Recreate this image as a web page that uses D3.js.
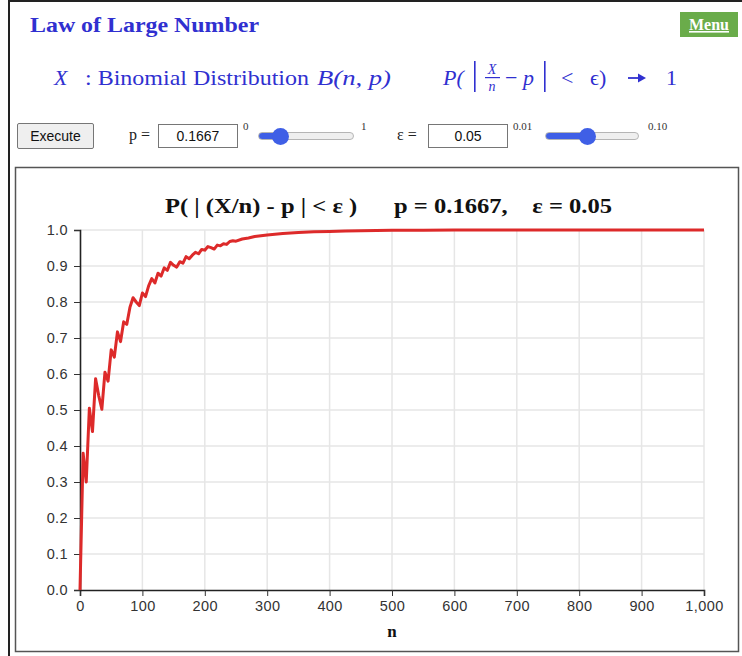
<!DOCTYPE html>
<html>
<head>
<meta charset="utf-8">
<script src="https://cdn.jsdelivr.net/npm/d3@7/dist/d3.min.js"></script>
<style>
  html, body { margin: 0; padding: 0; background: #fff; }
  #page { position: relative; width: 742px; height: 656px; overflow: hidden; }
  #frame { position: absolute; left: 8px; top: 0; width: 740px; height: 660px;
           border-left: 2px solid #222; border-top: 2px solid #222; box-sizing: border-box; }
  svg { position: absolute; left: 0; top: 0; }
  .ctl { position: absolute; font-family: "Liberation Sans", Arial, sans-serif; }
  #exec { left: 17px; top: 123px; width: 77px; height: 26px; font-size: 14px;
          background: #efefef; border: 1px solid #767676; border-radius: 2px; padding: 0; color: #111; }
  .box { height: 24px; width: 80px; font-size: 14px; text-align: center; border: 1px solid #767676;
         padding: 0; box-sizing: border-box; color: #111; background: #fff; }
  .lbl { position: absolute; font-family: "Liberation Serif", "Times New Roman", serif; font-size: 16px; color: #222; }
  .sm { position: absolute; font-family: "Liberation Serif", "Times New Roman", serif; font-size: 11px; color: #333; }
  input[type=range] { position: absolute; margin: 0; height: 8px; -webkit-appearance: none; appearance: none;
                      border: 1px solid #b5b5b5; border-radius: 5px; box-sizing: border-box; }
  input[type=range]::-webkit-slider-thumb { -webkit-appearance: none; width: 17px; height: 17px;
                      border-radius: 50%; background: #3f5fe6; border: none; }
</style>
</head>
<body>
<div id="page">
  <div id="frame"></div>
  <button id="exec" class="ctl">Execute</button>
  <span class="lbl" style="left:129px; top:126px;">p =</span>
  <input class="ctl box" style="left:158px; top:124px;" value="0.1667">
  <span class="sm" style="left:243px; top:120px;">0</span>
  <input id="pSlider" type="range" min="0" max="1" step="0.0001" value="0.1667" style="left:258px; top:132px; width:96px;">
  <span class="sm" style="left:361px; top:120px;">1</span>
  <span class="lbl" style="left:397px; top:126px;">ε =</span>
  <input class="ctl box" style="left:428px; top:124px;" value="0.05">
  <span class="sm" style="left:513px; top:120px;">0.01</span>
  <input id="eSlider" type="range" min="0.01" max="0.10" step="0.01" value="0.05" style="left:545px; top:132px; width:94px;">
  <span class="sm" style="left:648px; top:120px;">0.10</span>
</div>
<script>
// Sample sizes n and the probability P(|X/n - p| < ε) for X ~ B(n, p)
const nValues = [
  0, 5, 10, 15, 20, 25, 30, 35, 40, 45, 50, 55, 60, 65, 70, 75, 80, 85, 90, 95,
  100, 105, 110, 115, 120, 125, 130, 135, 140, 145, 150, 155, 160, 165, 170, 175, 180, 185, 190, 195,
  200, 205, 210, 215, 220, 225, 230, 235, 240, 245, 250, 260, 270, 280, 290, 300,
  325, 350, 375, 400, 425, 450, 475, 500, 550, 600, 700, 800, 900, 1000
];
const probValues = [
  0, 0.38, 0.30, 0.505, 0.44, 0.587, 0.54, 0.502, 0.605, 0.58, 0.667, 0.647, 0.717, 0.69, 0.745, 0.738, 0.785, 0.812, 0.80, 0.79,
  0.825, 0.815, 0.845, 0.865, 0.853, 0.88, 0.872, 0.895, 0.888, 0.91, 0.902, 0.897, 0.912, 0.908, 0.926, 0.92, 0.93, 0.938, 0.934, 0.946,
  0.944, 0.954, 0.951, 0.947, 0.958, 0.956, 0.962, 0.96, 0.968, 0.97, 0.969, 0.975, 0.978, 0.982, 0.984, 0.986,
  0.99, 0.993, 0.995, 0.996, 0.997, 0.998, 0.9985, 0.999, 0.9994, 0.9997, 0.9999, 1.0, 1.0, 1.0
];
const xTicks = [0, 100, 200, 300, 400, 500, 600, 700, 800, 900, 1000];
const yTicks = [0, 0.1, 0.2, 0.3, 0.4, 0.5, 0.6, 0.7, 0.8, 0.9, 1.0];
const pValue = "0.1667";
const epsValue = "0.05";

const W = 742, H = 656;
const serif = "'Liberation Serif', 'Times New Roman', serif";
const sans = "'Liberation Sans', Arial, sans-serif";
const blue = "#3030d0";

// Slider tracks: filled blue up to the current value
document.querySelectorAll("input[type=range]").forEach(r => {
  const pct = 100 * (r.value - r.min) / (r.max - r.min);
  r.style.background = `linear-gradient(to right, #3f5fe6 ${pct}%, #efefef ${pct}%)`;
});

const svg = d3.select("#page").insert("svg", "#exec")
  .attr("width", W).attr("height", H);

// Serif text helper; an optional width stretches the run to that length
function stext(xPos, yPos, size, str, opts = {}) {
  const t = svg.append("text").attr("x", xPos).attr("y", yPos)
    .attr("font-family", serif).attr("font-size", size)
    .attr("fill", opts.fill || blue);
  if (opts.italic) t.attr("font-style", "italic");
  if (opts.bold) t.attr("font-weight", "bold");
  if (opts.anchor) t.attr("text-anchor", opts.anchor);
  if (opts.width) t.attr("textLength", opts.width).attr("lengthAdjust", "spacingAndGlyphs");
  t.text(str);
  return t;
}

// Page heading
stext(30, 32, 21, "Law of Large Number", { bold: true, width: 229 });

// Menu button
svg.append("rect").attr("x", 680).attr("y", 12).attr("width", 58).attr("height", 25)
  .attr("fill", "#6aac4a");
stext(709, 30, 16, "Menu", { bold: true, fill: "#fff", anchor: "middle" })
  .attr("text-decoration", "underline");

// Formula line
stext(54, 85, 22, "X", { italic: true });
stext(85, 85, 22, ": Binomial Distribution", { width: 224 });
stext(317, 85, 22, "B(n, p)", { italic: true, width: 74 });
stext(443, 85, 22, "P(", { italic: true });
svg.append("rect").attr("x", 474).attr("y", 61).attr("width", 1.6).attr("height", 31).attr("fill", blue);
stext(492, 74, 14, "X", { italic: true, anchor: "middle" });
svg.append("rect").attr("x", 485).attr("y", 77).attr("width", 15).attr("height", 1.2).attr("fill", blue);
stext(492, 91, 14, "n", { italic: true, anchor: "middle" });
stext(505, 85, 22, "−", {});
stext(523, 85, 22, "p", { italic: true });
svg.append("rect").attr("x", 544).attr("y", 61).attr("width", 1.6).attr("height", 31).attr("fill", blue);
stext(561, 85, 22, "<", {});
stext(590, 85, 22, "ϵ)", {});
// Limit arrow
svg.append("line").attr("x1", 628).attr("x2", 640).attr("y1", 78).attr("y2", 78)
  .attr("stroke", blue).attr("stroke-width", 1.8);
svg.append("path").attr("d", "M638,73.5 L646,78 L638,82.5 Z").attr("fill", blue);
stext(666, 85, 22, "1", {});

// Chart frame
svg.append("rect").attr("x", 15.5).attr("y", 167.5).attr("width", 723).attr("height", 484)
  .attr("fill", "#fff").attr("stroke", "#555").attr("stroke-width", 1.5);

// Chart title
svg.append("text").attr("x", 165).attr("y", 213)
  .attr("font-family", serif).attr("font-weight", "bold").attr("font-size", 22).attr("fill", "#111")
  .attr("xml:space", "preserve")
  .attr("textLength", 447).attr("lengthAdjust", "spacingAndGlyphs")
  .text(`P( | (X/n) - p | < ε )      p = ${pValue},    ε = ${epsValue}`);

const x = d3.scaleLinear().domain([0, 1000]).range([80, 704]);
const y = d3.scaleLinear().domain([0, 1]).range([590, 230]);

// Grid
const grid = svg.append("g").attr("stroke", "#e6e6e6").attr("stroke-width", 1.5);
grid.selectAll("line.v").data(xTicks.slice(1)).join("line")
  .attr("x1", d => x(d)).attr("x2", d => x(d)).attr("y1", y(1)).attr("y2", y(0));
grid.selectAll("line.h").data(yTicks.slice(1)).join("line")
  .attr("x1", x(0)).attr("x2", x(1000)).attr("y1", d => y(d)).attr("y2", d => y(d));

// Axes
const xAxis = svg.append("g").attr("transform", `translate(0,${y(0)})`)
  .call(d3.axisBottom(x).tickValues(xTicks).tickFormat(d3.format(",")).tickSizeOuter(0).tickSize(6).tickPadding(5));
const yAxis = svg.append("g").attr("transform", `translate(${x(0)},0)`)
  .call(d3.axisLeft(y).tickValues(yTicks).tickFormat(d3.format(".1f")).tickSizeOuter(0).tickSize(6).tickPadding(6));
[xAxis, yAxis].forEach(a => {
  a.select(".domain").attr("stroke", "#222").attr("stroke-width", 1.6);
  a.selectAll(".tick line").attr("stroke", "#333");
  a.selectAll(".tick text").attr("font-family", sans).attr("font-size", 14.5).attr("fill", "#333")
    .attr("letter-spacing", 0.4);
});

stext(x(500), 637, 17, "n", { bold: true, fill: "#111", anchor: "middle" });

// Probability curve
const line = d3.line().x((d, i) => x(nValues[i])).y(d => y(d));
svg.append("path").datum(probValues).attr("d", line)
  .attr("fill", "none").attr("stroke", "#dd2a2a").attr("stroke-width", 3)
  .attr("stroke-linejoin", "round");
</script>
</body>
</html>
